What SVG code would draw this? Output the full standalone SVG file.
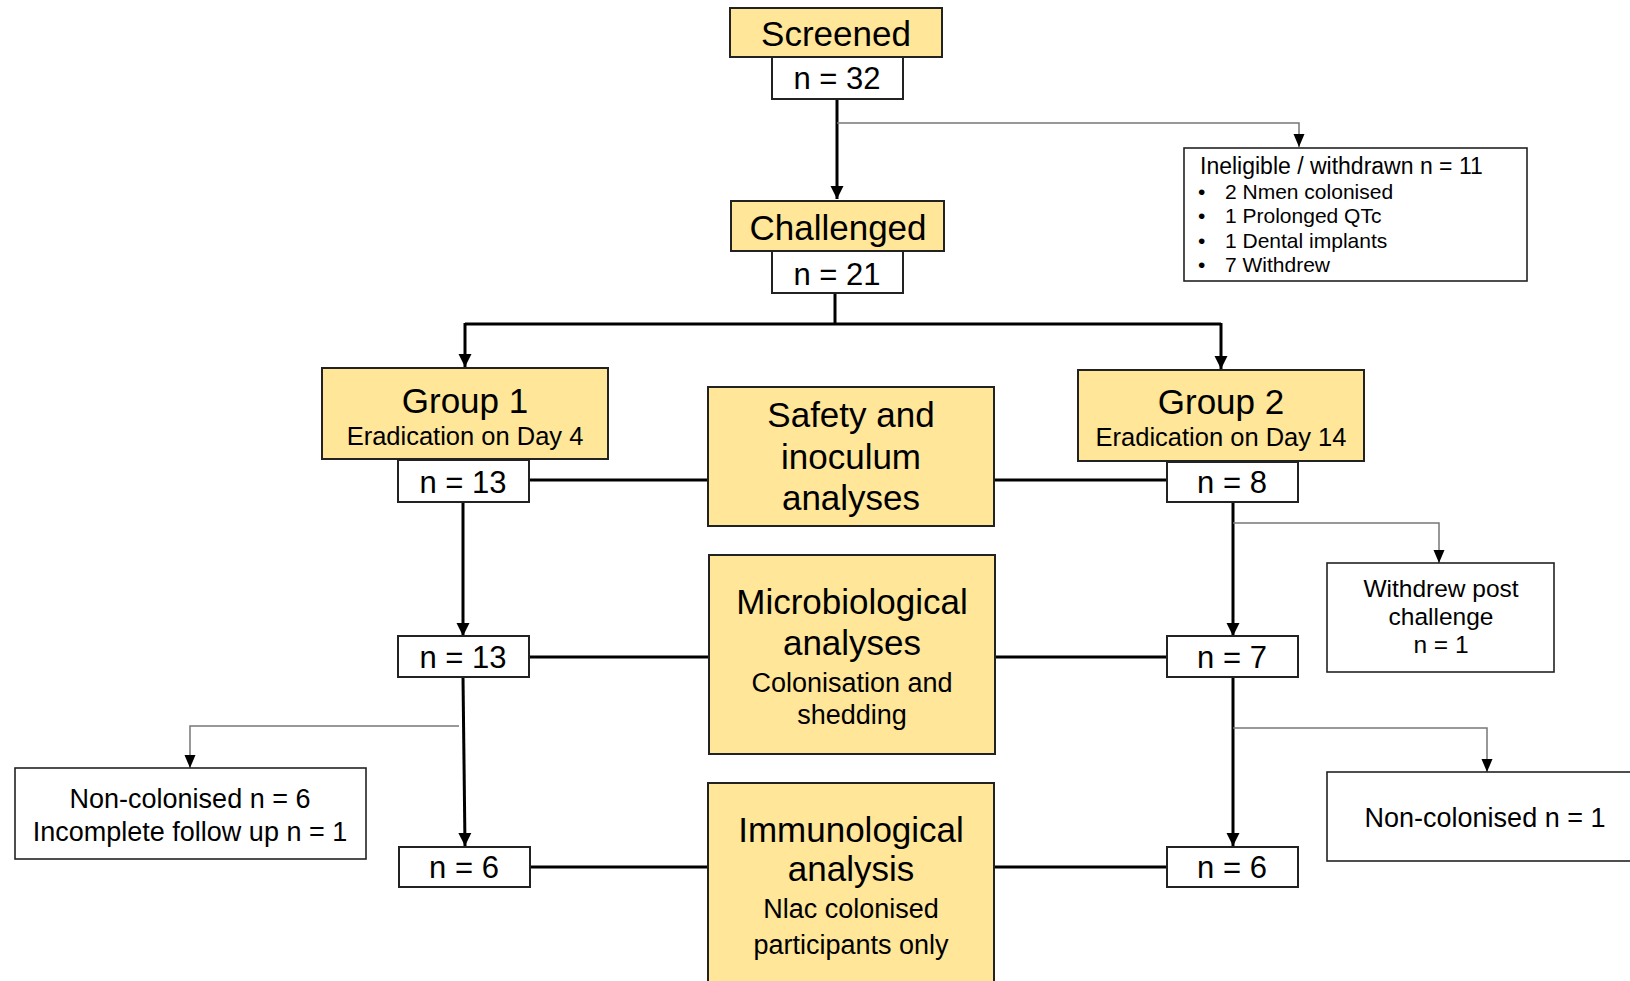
<svg xmlns="http://www.w3.org/2000/svg" width="1630" height="981" viewBox="0 0 1630 981">
<defs>
<style>
text{font-family:"Liberation Sans",Arial,Helvetica,sans-serif;fill:#000;text-anchor:middle}
.y{fill:#FFE699;stroke:#222;stroke-width:2}
.w{fill:#fff;stroke:#222;stroke-width:2}
.s{fill:#fff;stroke:#222;stroke-width:1.6}
.main{fill:none;stroke:#000;stroke-width:3}
.br{fill:none;stroke:#777;stroke-width:1.5}
.t35{font-size:35px}
.t31{font-size:31px}
.t25{font-size:25.5px}
.t27{font-size:27px}
.t24{font-size:24.5px}
.t23{font-size:23px;text-anchor:start}
.t21{font-size:21px;text-anchor:start}
</style>
<marker id="ah" markerUnits="userSpaceOnUse" markerWidth="14" markerHeight="14" refX="13" refY="7" orient="auto" viewBox="0 0 14 14"><path d="M0,0.5 L13,7 L0,13.5 z" fill="#000"/></marker>
<marker id="ahs" markerUnits="userSpaceOnUse" markerWidth="14" markerHeight="12" refX="13" refY="6" orient="auto" viewBox="0 0 14 12"><path d="M0,0.5 L13,6 L0,11.5 z" fill="#000"/></marker>
</defs>
<rect width="1630" height="981" fill="#fff"/>
<g id="connectors">
<path class="main" d="M837,99 V199" marker-end="url(#ah)"/>
<path class="br" d="M837,123 H1299 V147" marker-end="url(#ahs)"/>
<path class="main" d="M835,293 V324"/>
<path class="main" d="M465,324 H1221"/>
<path class="main" d="M465,323 V367" marker-end="url(#ah)"/>
<path class="main" d="M1221,323 V369" marker-end="url(#ah)"/>
<path class="main" d="M530,480 H708"/>
<path class="main" d="M994,480 H1167"/>
<path class="main" d="M463,502 V636" marker-end="url(#ah)"/>
<path class="main" d="M529,657 H709"/>
<path class="main" d="M995,657 H1167"/>
<path class="main" d="M463,677 L465,846" marker-end="url(#ah)"/>
<path class="br" d="M459,726 H190 V768" marker-end="url(#ahs)"/>
<path class="main" d="M530,867 H708"/>
<path class="main" d="M994,867 H1167"/>
<path class="main" d="M1233,502 V636" marker-end="url(#ah)"/>
<path class="br" d="M1233,523 H1439 V563" marker-end="url(#ahs)"/>
<path class="main" d="M1233,677 V846" marker-end="url(#ah)"/>
<path class="br" d="M1233,728 H1487 V772" marker-end="url(#ahs)"/>
</g>
<g id="screened">
<rect class="y" x="730" y="8" width="212" height="49"/>
<text class="t35" x="836" y="46">Screened</text>
</g>
<g id="n32">
<rect class="w" x="772" y="57" width="131" height="42"/>
<text class="t31" x="837" y="89">n = 32</text>
</g>
<g id="ineligible">
<rect class="s" x="1184" y="148" width="343" height="133"/>
<text class="t23" x="1200" y="174">Ineligible / withdrawn n = 11</text>
<text class="t21" x="1198" y="199">•</text><text class="t21" x="1225" y="199">2 Nmen colonised</text>
<text class="t21" x="1198" y="223">•</text><text class="t21" x="1225" y="223">1 Prolonged QTc</text>
<text class="t21" x="1198" y="248">•</text><text class="t21" x="1225" y="248">1 Dental implants</text>
<text class="t21" x="1198" y="272">•</text><text class="t21" x="1225" y="272">7 Withdrew</text>
</g>
<g id="challenged">
<rect class="y" x="731" y="201" width="213" height="50"/>
<text class="t35" x="838" y="240">Challenged</text>
</g>
<g id="n21">
<rect class="w" x="772" y="251" width="131" height="42"/>
<text class="t31" x="837" y="285">n = 21</text>
</g>
<g id="group1">
<rect class="y" x="322" y="368" width="286" height="91"/>
<text class="t35" x="465" y="413">Group 1</text>
<text class="t25" x="465" y="445">Eradication on Day 4</text>
</g>
<g id="group2">
<rect class="y" x="1078" y="370" width="286" height="91"/>
<text class="t35" x="1221" y="414">Group 2</text>
<text class="t25" x="1221" y="446">Eradication on Day 14</text>
</g>
<g id="g1n13a">
<rect class="w" x="398" y="460" width="131" height="42"/>
<text class="t31" x="463" y="493">n = 13</text>
</g>
<g id="g2n8">
<rect class="w" x="1167" y="462" width="131" height="40"/>
<text class="t31" x="1232" y="493">n = 8</text>
</g>
<g id="safety">
<rect class="y" x="708" y="387" width="286" height="139"/>
<text class="t35" x="851" y="427">Safety and</text>
<text class="t35" x="851" y="469">inoculum</text>
<text class="t35" x="851" y="510">analyses</text>
</g>
<g id="withdrew">
<rect class="s" x="1327" y="563" width="227" height="109"/>
<text class="t24" x="1441" y="597">Withdrew post</text>
<text class="t24" x="1441" y="625">challenge</text>
<text class="t24" x="1441" y="653">n = 1</text>
</g>
<g id="g1n13b">
<rect class="w" x="398" y="636" width="131" height="41"/>
<text class="t31" x="463" y="668">n = 13</text>
</g>
<g id="g2n7">
<rect class="w" x="1167" y="636" width="131" height="41"/>
<text class="t31" x="1232" y="668">n = 7</text>
</g>
<g id="micro">
<rect class="y" x="709" y="555" width="286" height="199"/>
<text class="t35" x="852" y="614">Microbiological</text>
<text class="t35" x="852" y="655">analyses</text>
<text class="t27" x="852" y="692">Colonisation and</text>
<text class="t27" x="852" y="724">shedding</text>
</g>
<g id="noncol6">
<rect class="s" x="15" y="768" width="351" height="91"/>
<text class="t27" x="190" y="808">Non-colonised n = 6</text>
<text class="t27" x="190" y="841">Incomplete follow up n = 1</text>
</g>
<g id="noncol1">
<rect class="s" x="1327" y="772" width="316" height="89"/>
<text class="t27" x="1485" y="827">Non-colonised n = 1</text>
</g>
<g id="g1n6">
<rect class="w" x="399" y="847" width="131" height="40"/>
<text class="t31" x="464" y="878">n = 6</text>
</g>
<g id="g2n6">
<rect class="w" x="1167" y="847" width="131" height="40"/>
<text class="t31" x="1232" y="878">n = 6</text>
</g>
<g id="immuno">
<rect class="y" x="708" y="783" width="286" height="210"/>
<text class="t35" x="851" y="842">Immunological</text>
<text class="t35" x="851" y="881">analysis</text>
<text class="t27" x="851" y="918">Nlac colonised</text>
<text class="t27" x="851" y="954">participants only</text>
</g>
</svg>
